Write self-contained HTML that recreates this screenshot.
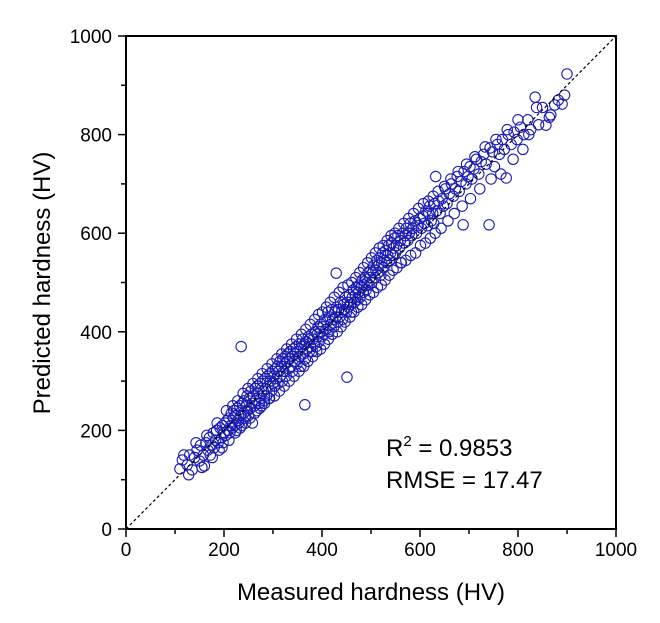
<!DOCTYPE html>
<html><head><meta charset="utf-8"><style>
html,body{margin:0;padding:0;background:#fff;}
svg{display:block;font-family:"Liberation Sans",Arial,sans-serif;}
</style></head><body>
<svg id="chart" width="660" height="623" viewBox="0 0 660 623">
<g id="marks"></g>
<line x1="126" y1="529" x2="616" y2="36" stroke="#000" stroke-width="1.2" stroke-dasharray="3,2.5"/>
<rect x="126" y="36" width="490" height="493" fill="none" stroke="#000" stroke-width="2"/>
<g id="xticks"></g>
<g id="yticks"></g>
<text x="371" y="600" font-size="24" text-anchor="middle">Measured hardness (HV)</text>
<text transform="translate(50,283) rotate(-90)" font-size="24" text-anchor="middle">Predicted hardness (HV)</text>
<text x="386" y="456" font-size="24">R<tspan dy="-10" font-size="15">2</tspan><tspan dy="10"> = 0.9853</tspan></text>
<text x="386" y="488" font-size="24">RMSE = 17.47</text>
</svg>
<script>
const measured=[110,115,125,130,135,140,145,150,152,158,160,163,167,170,172,175,178,180,183,185,188,190,192,195,197,198,200,
202,204,206,208,210,212,214,215,217,219,220,222,224,225,227,229,230,232,234,235,236,238,240,241,243,245,247,248,250,252,254,255,257,258,260,262,264,265,267,268,270,272,274,275,277,279,280,282,284,285,287,289,290,292,294,295,297,299,300,
302,304,305,307,309,310,312,314,315,317,319,320,322,324,325,327,329,330,332,334,335,337,339,340,342,344,345,347,349,350,352,354,355,357,359,360,362,364,365,366,368,370,372,374,375,377,379,380,382,384,386,388,390,392,394,396,398,400,
402,404,406,408,410,412,414,416,418,420,422,424,426,428,429,430,432,434,436,438,440,442,444,446,448,450,451,452,454,456,458,460,462,464,466,468,470,472,474,476,478,480,482,484,486,488,490,492,494,496,498,500,
502,504,506,508,510,512,514,516,518,520,522,524,526,528,530,532,534,536,538,540,542,544,546,548,550,552,555,558,560,562,565,568,570,572,575,578,580,583,586,590,593,596,600,
603,606,609,612,615,618,620,623,626,628,630,632,634,638,641,645,648,652,655,660,664,668,672,676,680,684,688,690,694,698,
702,706,710,715,720,725,730,735,741,743,748,752,758,762,768,772,776,780,786,792,798,
805,812,820,826,835,842,850,857,864,867,875,882,890,900,895,
205,210,218,223,228,233,239,244,249,253,259,263,269,273,278,283,288,293,298,303,308,313,318,323,328,333,338,343,348,353,358,363,367,371,376,381,385,389,393,397,
401,405,409,413,417,421,425,431,435,439,443,447,453,457,461,465,469,473,477,481,485,489,493,497,501,505,509,513,517,521,525,529,533,537,541,545,549,553,557,561,
567,571,577,581,587,591,597,601,607,611,617,621,627,631,637,643,650,657,663,670,678,686,695,703,712,722,733,745,755,765,778,790,800,810,822,838,
118,128,143,155,165,176,186,196];
const predicted=[122,140,130,150,120,145,160,138,170,150,128,175,160,185,150,170,195,165,180,200,175,160,205,185,210,175,195,
215,190,220,200,225,195,210,235,205,225,240,210,230,200,245,220,215,250,230,370,210,255,235,260,225,250,270,240,230,265,245,280,255,215,270,250,285,260,240,290,275,255,295,265,250,300,280,260,305,285,270,310,290,265,315,300,280,320,295,
310,290,325,305,330,295,320,340,310,330,300,345,320,335,350,310,340,355,325,345,360,330,350,320,365,340,355,370,335,360,345,375,350,330,370,385,355,375,252,345,380,365,390,360,385,370,395,360,385,375,400,370,395,410,380,400,415,390,
410,395,425,405,420,440,400,430,415,445,425,410,440,430,519,450,420,445,430,460,440,425,455,445,470,440,308,460,450,475,455,440,470,485,460,475,490,465,480,495,470,490,505,480,495,510,485,500,520,495,510,525,
500,520,535,510,525,545,520,535,550,515,540,560,530,545,565,540,555,575,545,560,580,555,570,590,560,575,595,570,585,540,600,580,595,610,585,600,620,595,610,625,600,615,630,
610,635,620,645,615,640,655,625,640,620,660,715,645,665,640,670,655,690,660,680,700,675,690,715,685,705,617,725,700,715,
735,710,730,750,720,745,760,740,617,773,765,735,780,760,790,770,712,800,780,805,790,
815,800,830,810,876,820,855,819,835,840,860,870,862,923,880,
240,180,250,195,260,205,275,215,285,225,295,235,305,245,315,255,325,265,335,270,345,280,355,290,365,300,375,310,385,320,395,330,405,340,415,350,425,360,435,365,
440,375,450,385,460,395,470,400,480,410,490,420,495,430,500,440,510,450,520,455,530,465,540,475,550,480,560,490,570,495,575,505,585,515,595,525,600,530,610,540,
620,545,630,555,640,560,650,575,660,580,665,590,675,600,685,610,695,625,710,640,725,655,740,670,755,690,775,710,790,720,810,750,830,770,800,855,
150,110,175,125,190,145,215,165];
const xTicks=[0,200,400,600,800,1000];
const yTicks=[0,200,400,600,800,1000];
const NS='http://www.w3.org/2000/svg';
function sx(v){return 126+v*0.49;}
function sy(v){return 529-v*0.493;}
const marks=document.getElementById('marks');
for(let i=0;i<measured.length;i++){
  const c=document.createElementNS(NS,'circle');
  c.setAttribute('cx',sx(measured[i]));c.setAttribute('cy',sy(predicted[i]));
  c.setAttribute('r',5.2);c.setAttribute('fill','none');c.setAttribute('stroke','#1c1cb4');c.setAttribute('stroke-width','1.1');
  
  
  marks.appendChild(c);
}
const xg=document.getElementById('xticks'),yg=document.getElementById('yticks');
function ln(g,x1,y1,x2,y2){const l=document.createElementNS(NS,'line');l.setAttribute('x1',x1);l.setAttribute('y1',y1);l.setAttribute('x2',x2);l.setAttribute('y2',y2);l.setAttribute('stroke','#000');l.setAttribute('stroke-width','1.5');


g.appendChild(l);}
for(let i=0;i<xTicks.length;i++){
  const v=xTicks[i];ln(xg,sx(v),529,sx(v),537);
  if(i<xTicks.length-1)ln(xg,sx(v+100),529,sx(v+100),534);
  const t=document.createElementNS(NS,'text');t.setAttribute('x',sx(v));t.setAttribute('y',556);t.setAttribute('font-size','19');t.setAttribute('text-anchor','middle');t.textContent=v;
  
  
  xg.appendChild(t);
}
for(let i=0;i<yTicks.length;i++){
  const v=yTicks[i];ln(yg,118,sy(v),126,sy(v));
  if(i<yTicks.length-1)ln(yg,121,sy(v+100),126,sy(v+100));
  const t=document.createElementNS(NS,'text');t.setAttribute('x',112);t.setAttribute('y',sy(v)+7);t.setAttribute('font-size','19');t.setAttribute('text-anchor','end');t.textContent=v;
  
  
  yg.appendChild(t);
}
</script>
</body></html>
